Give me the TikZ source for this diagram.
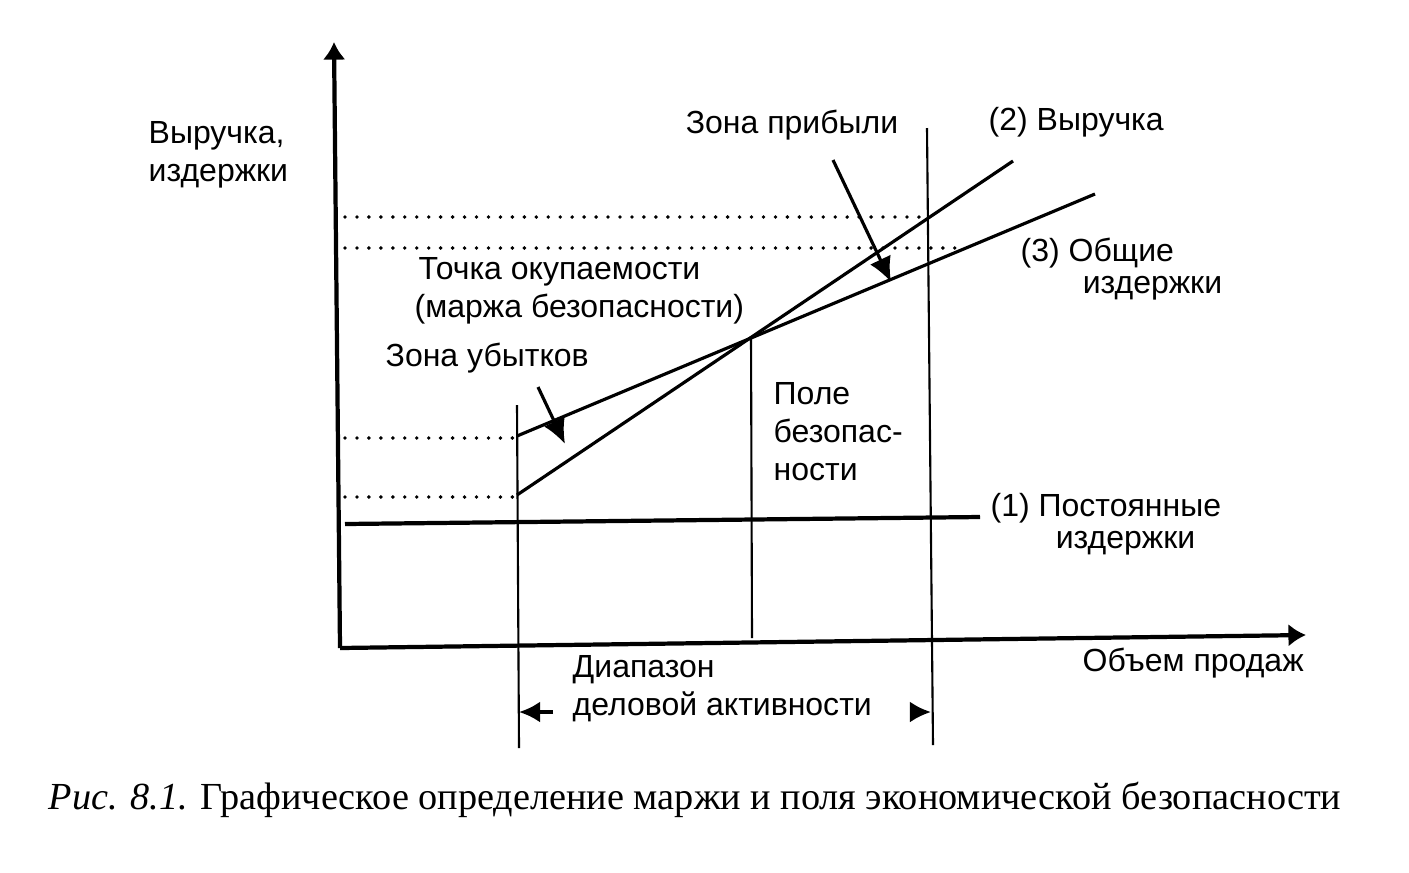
\documentclass[tikz,border=0pt]{standalone}
\usepackage{fontspec}
\setmainfont{Liberation Serif}
\newfontfamily\lblfont{Liberation Sans}
\usetikzlibrary{arrows.meta}

\begin{document}
\begin{tikzpicture}[x=0.01cm,y=-0.01cm,
    axis/.style={line width=1.2pt,-{Latex[length=5pt,width=6.5pt]}},
    curve/.style={line width=0.9pt},
    guide/.style={line width=0.6pt},
    dots/.style={line width=1.1pt,line cap=round,dash pattern=on 0pt off 3.4pt},
    pointer/.style={line width=0.9pt,-{Latex[length=7pt,width=6.5pt]}},
    span/.style={line width=1pt,-{Latex[length=6pt,width=6pt]}},
    lbl/.style={font=\lblfont\fontsize{9.1}{10.8}\selectfont,inner sep=0pt,align=left},
    tight/.style={font=\lblfont\fontsize{9.1}{9.1}\selectfont}]
  \useasboundingbox (0,0) rectangle (1409,872);

  % axes
  \coordinate (O) at (340,648);
  \coordinate (ytop) at (334,42);
  \coordinate (xend) at (1306,635);
  \draw[axis] (O) -- (ytop);
  \draw[axis] (O) -- (xend);

  % lines of the chart
  \coordinate (fc0) at (345,524);
  \coordinate (fc1) at (980,517);
  \coordinate (rv0) at (517,495);
  \coordinate (rv1) at (1013,161);
  \coordinate (tc0) at (517,436);
  \coordinate (tc1) at (1095,194);
  \coordinate (be) at (751,336);
  \draw[line width=1.2pt] (fc0) -- (fc1);
  \draw[curve] (rv0) -- (rv1);
  \draw[curve] (tc0) -- (tc1);

  \draw[guide] (517,405) -- (519,748);
  \draw[guide] (be) -- (752,638);
  \draw[guide] (927,128) -- (933,745);

  \foreach \y/\xe in {217/929,248/965,438/515,497/515}{
    \draw[dots] (345,\y) -- (\xe,\y);
  }

  % labels
  \node[lbl,anchor=west] (ylab) at (148,155) {Выручка,\\издержки};
  \node[lbl] (profit) at (792,125) {Зона прибыли};
  \node[lbl,anchor=west] (rev) at (988,122) {(2) Выручка};
  \node[lbl,tight,anchor=west] (tcost) at (1020,269) {(3) Общие\\\hspace*{0.62cm}издержки};
  \node[lbl,anchor=west] (point) at (414,291) {\hspace*{0.04cm}Точка окупаемости\\(маржа безопасности)};
  \node[lbl,anchor=west] (loss) at (385,358) {Зона убытков};
  \node[lbl,anchor=west] (field) at (773,432) {Поле\\безопас-\\ности};
  \node[lbl,tight,anchor=west] (fcost) at (990,524) {(1) Постоянные\\\hspace*{0.65cm}издержки};
  \node[lbl,anchor=west] (vol) at (1082,663) {Объем продаж};
  \node[lbl,anchor=west] (range) at (572,689) {Диапазон\\деловой активности};

  % pointers
  \coordinate (p0) at (833,160);
  \coordinate (p1) at (891,282);
  \coordinate (l0) at (538,387);
  \coordinate (l1) at (565,444);
  \draw[pointer] (p0) -- (p1);
  \draw[pointer] (l0) -- (l1);
  \draw[span] (553,712) -- (519,712);
  \draw[span] (911,712) -- (931,712);

  \node[anchor=west,inner sep=0pt,font=\fontsize{10.88}{13}\selectfont] (cap) at (48,800)
    {\textit{Рис. 8.1.} Графическое определение маржи и поля экономической безопасности};
\end{tikzpicture}
\end{document}
